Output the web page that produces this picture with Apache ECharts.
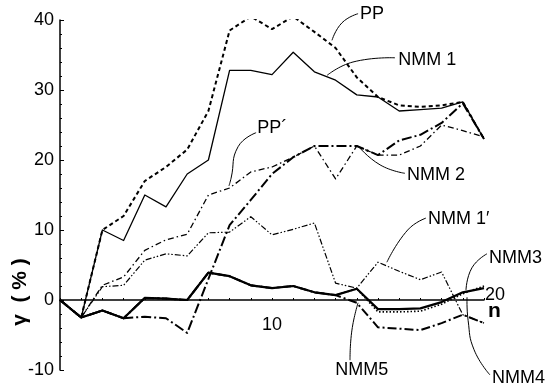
<!DOCTYPE html>
<html><head><meta charset="utf-8">
<script src="https://cdn.jsdelivr.net/npm/echarts@6/dist/echarts.min.js"></script>
<style>html,body{margin:0;padding:0;background:#fff}#c{width:558px;height:391px}</style>
</head><body><div id="c"></div>
<script>
// n = 0..20
const nValues = [0,1,2,3,4,5,6,7,8,9,10,11,12,13,14,15,16,17,18,19,20];
const PP      = [0,-2.5,10,12,17,19,21.5,27,38.5,40.5,38.7,40.5,38.3,36,31.8,29,27.8,27.6,27.8,28.3,23];
const NMM1    = [0,-2.5,10,8.5,15,13.3,18,20,32.8,32.8,32.2,35.4,32.6,31.4,29.3,29,27,27.2,27.4,28.3,23];
const PPp     = [0,-2.5,2.1,3.3,7.1,8.6,9.4,15,16,18.3,19,20.4,22,17.3,22,20.7,20.7,22,25,24.2,23.3];
const NMM2    = [0,-2.5,-1.5,-2.6,-2.4,-2.6,-4.7,3,10.7,14.3,18,20.4,22,22,22,20.7,22.8,23.6,25.3,28.1,23];
const NMM1p   = [0,-2.5,1.9,2.1,5.7,6.6,6.3,9.6,9.7,11.9,9.3,10.1,11,2.4,1.7,5.4,4.1,2.9,4,-2.1,-3.3];
const NMM3    = [0,-2.5,-1.5,-2.6,0.3,0.2,0,3.9,3.4,2.1,1.7,2,1.1,0.7,1.6,-1.3,-1.3,-1.2,-0.3,1.1,1.7];
const NMM4    = [0,-2.5,-1.5,-2.6,0.3,0.2,0,3.9,3.4,2.1,1.7,2,1.1,0.7,1.6,-1.7,-1.7,-1.6,-0.6,0.9,2.0];
const NMM5    = [0,-2.5,-1.5,-2.6,0.3,0.2,0,3.9,3.4,2.1,1.7,2,1.1,0.7,-0.4,-3.9,-4.1,-4.3,-3.3,-2.1,-3.3];
const yTicks  = [-10,0,10,20,30,40];
const xTickLabels = [{text:'10', at:[10,-3.6], align:'center'}, {text:'20', at:[20.05,0.7], align:'left'}];
const xAxisName = {text:'n', at:[20.19,-1.6]};

// annotation labels: text, label anchor (data coords), leader path (data coords)
const notes = [
  {text:'PP',     at:[14.15,40.9], path:[[14.06,40.9],[13.3,39.6],[12.83,37.1]]},
  {text:'NMM 1',  at:[15.95,34.3], path:[[15.8,34.6],[13.82,34.0],[12.6,32.1]]},
  {text:'PP\u00B4', at:[9.3,24.6], path:[[9.25,23.9],[8.4,21.9],[8.07,17.4],[7.97,16.3]]},
  {text:'NMM 2',  at:[16.37,17.9], path:[[16.27,18.1],[15.1,19.3],[14.06,22]]},
  {text:'NMM 1\u2032', at:[17.36,11.6], path:[[17.26,11.7],[16.4,10],[15.42,5.4]]},
  {text:'NMM3',   at:[20.24,6.0],  path:[[20.14,6.6],[19.43,4.6],[19.15,1.4]]},
  {text:'NMM5',   at:[12.98,-10.0], path:[[13.68,-8.6],[13.77,-4.3],[14.06,-0.4]]},
  {text:'NMM4',   at:[20.38,-11.1], path:[[20.28,-10.7],[19.53,-7.1],[19.25,-2.9],[19.2,0.4]]}
];

const FONT = '"Liberation Sans", Arial, sans-serif';
function pairs(arr){ return nValues.map((n,i)=>[n,arr[i]]); }
function ser(name, arr, type, width){
  return {name, type:'line', data:pairs(arr), symbol:'none', animation:false,
    lineStyle:{color:'#000', width, type, cap:'butt', join:'round'}, z: 3};
}
const chart = echarts.init(document.getElementById('c'), null, {renderer:'canvas'});
chart.setOption({
  backgroundColor:'#fff',
  animation:false,
  grid:{left:60, right:74, top:20, bottom:21},
  xAxis:{type:'value', min:0, max:20, interval:1,
    axisLine:{onZero:true, lineStyle:{color:'#000', width:1.5}},
    axisTick:{show:true, length:2, inside:true, lineStyle:{color:'#000'}},
    axisLabel:{show:false},
    splitLine:{show:false}},
  yAxis:{type:'value', min:-10, max:40, interval:10,
    axisLine:{show:true, lineStyle:{color:'#000', width:1.5}},
    axisTick:{show:true, inside:true, length:4, lineStyle:{color:'#000'}},
    minorTick:{show:true, splitNumber:5, length:2, lineStyle:{color:'#000'}},
    axisLabel:{color:'#000', fontFamily:FONT, fontSize:18, margin:6,
      formatter:v => yTicks.includes(v) ? String(v) : ''},
    splitLine:{show:false}},
  series:[
    ser('PP', PP, [4,3], 2),
    ser('NMM 1', NMM1, 'solid', 1.3),
    ser("PP'", PPp, [6,3,1.5,3], 1.3),
    ser('NMM 2', NMM2, [10,3,2,3], 2),
    ser("NMM 1'", NMM1p, [6,2,1.5,2,1.5,2], 1.2),
    ser('NMM4', NMM4, [1.5,2], 1.6),
    ser('NMM5', NMM5, [9,3,2,3], 2),
    ser('NMM3', NMM3, 'solid', 2.2)
  ]
});
const g = [];
const px = p => chart.convertToPixel({gridIndex:0}, p);
notes.forEach(a => {
  const p = px(a.at);
  g.push({type:'text', x:p[0], y:p[1], z:10,
    style:{text:a.text, fill:'#000', font:'18px '+FONT, textVerticalAlign:'middle', textAlign:'left'}});
  g.push({type:'polyline', z:9, shape:{points:a.path.map(px), smooth:0.5},
    style:{stroke:'#000', lineWidth:1, fill:null}});
});
xTickLabels.forEach(a => {
  const p = px(a.at);
  g.push({type:'text', x:p[0], y:p[1], z:10,
    style:{text:a.text, fill:'#000', font:'18px '+FONT, textVerticalAlign:'middle', textAlign:a.align}});
});
{
  const p = px(xAxisName.at);
  g.push({type:'text', x:p[0], y:p[1], z:10,
    style:{text:xAxisName.text, fill:'#000', font:'bold 21px '+FONT, textVerticalAlign:'middle', textAlign:'left'}});
}
g.push({type:'text', x:20, y:292, rotation:Math.PI/2, z:10,
  style:{text:'\u03B3  ( % )', fill:'#000', font:'bold 21px '+FONT, textAlign:'center', textVerticalAlign:'middle'}});
chart.setOption({graphic:g});
</script>
</body></html>
